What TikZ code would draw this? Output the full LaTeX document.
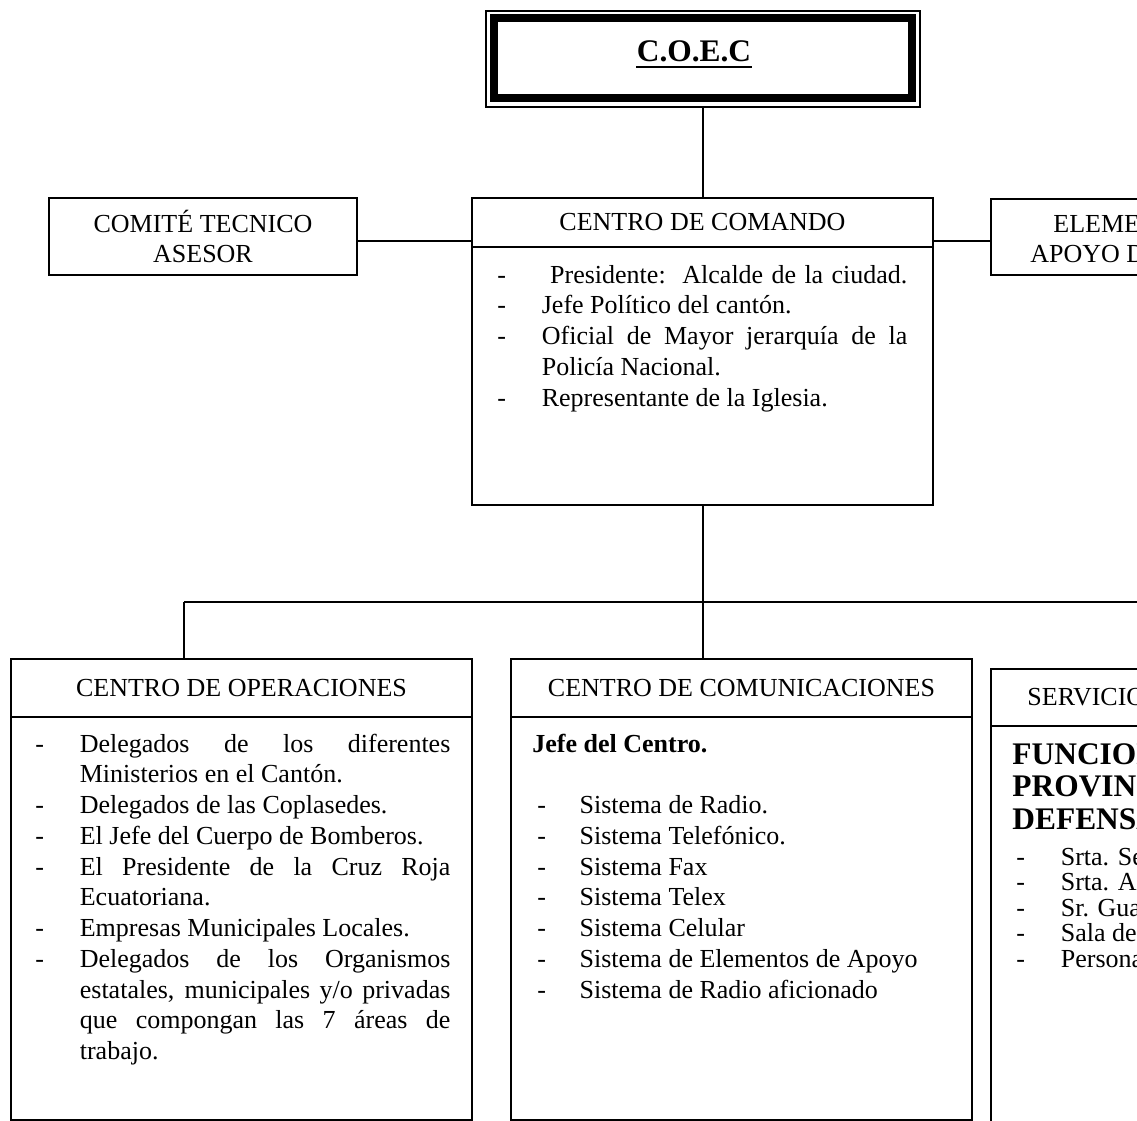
\documentclass[tikz,border=0pt]{standalone}
\usepackage{fontspec}
\setmainfont{Liberation Serif}
\usetikzlibrary{positioning,fit}

% one list line: dash in its own column, hanging indent for the rest
\newcommand{\lineitem}[2][20.5pt]{\hangindent=#1\hangafter=1\noindent\makebox[#1][l]{-}#2\par}

\begin{document}
\begin{tikzpicture}[
    x=0.4615pt, y=-0.4615pt,
    box/.style={draw, line width=0.9pt, inner sep=0pt},
    head/.style={anchor=base, inner sep=0pt, align=center, font=\fontsize{12}{14.3}\selectfont},
    list/.style={anchor=base west, inner sep=0pt, align=justify, font=\fontsize{12}{14.2}\selectfont,
        execute at begin node={\hyphenpenalty=10000\exhyphenpenalty=10000\tolerance=10000}},
    plain/.style={anchor=base west, inner sep=0pt, align=flush left, font=\fontsize{12}{14.2}\selectfont},
    big/.style={anchor=base west, inner sep=0pt, align=left, font=\fontsize{14.5}{14.8}\selectfont\bfseries},
    link/.style={line width=0.9pt},
]
\useasboundingbox (0,0) rectangle (1137,1121);
\clip (0,0) rectangle (1137,1121);

% Top box
\node[box, fit={(486,11) (920,107)}] (coec) {};
\node[box, line width=3.7pt, fit={(494,18) (912,98)}] (coecin) {};
\node[anchor=base, inner sep=0pt, font=\fontsize{14.5}{17}\selectfont\bfseries] (coectxt) at (694,62) {C.O.E.C};
\draw[line width=1pt] ([yshift=-2.3pt]coectxt.base west) -- ([yshift=-2.3pt]coectxt.base east);

% Second row
\coordinate (hl) at (0,241);
\coordinate (cmdsep) at (0,247);
\node[box, fit={(49,198) (357,275)}] (comite) {};
\node[head] (comitetxt) at (203,263) {COMITÉ TECNICO\\ASESOR};

\node[box, fit={(472,198) (933,505)}] (comando) {};
\draw[link] (comando.west |- cmdsep) -- (comando.east |- cmdsep);
\node[head] (comandotxt) at (702.5,231) {CENTRO DE COMANDO};
\node[list, text width=189.2pt] (comandolist) at (497,283) {%
  \lineitem{\ Presidente:\ \ Alcalde de la ciudad.{\parfillskip=0pt\par}}
  \lineitem{Jefe Político del cantón.}
  \lineitem{Oficial de Mayor jerarquía de la\linebreak Policía Nacional.}
  \lineitem{Representante de la Iglesia.}};

\node[box, fit={(991,199) (1300,275)}] (eleme) {};
\node[plain] (elemetxt) at (1053,232) {ELEMENTOS DE};
\node[plain] (apoyotxt) at (1030,263) {APOYO DE LA};

\draw[link] (coec.south) -- (coec.south |- comando.north);
\draw[link] (comite.east |- hl) -- (comando.west |- hl);
\draw[link] (comando.east |- hl) -- (eleme.west |- hl);

% Bus to the third row
\coordinate (bus) at (703,602);
\coordinate (busL) at (184,602);
\coordinate (busR) at (1137,602);
\coordinate (opsep) at (0,717);
\coordinate (servsep) at (0,726);

\node[box, fit={(11,659) (472,1120)}] (ops) {};
\node[box, fit={(511,659) (972,1120)}] (comm) {};
\node[box, fit={(991,669) (1300,1200)}] (serv) {};

\draw[link] (comando.south -| bus) -- (bus);
\draw[link] (busL) -- (busR);
\draw[link] (busL) -- (busL |- ops.north);
\draw[link] (bus) -- (bus |- comm.north);

% Centro de operaciones
\draw[link] (ops.west |- opsep) -- (ops.east |- opsep);
\node[head] (opstxt) at (241.5,696) {CENTRO DE OPERACIONES};
\node[list, text width=191.5pt] (opslist) at (35,752) {%
  \lineitem{Delegados de los diferentes\linebreak Ministerios en el Cantón.}
  \lineitem{Delegados de las Coplasedes.}
  \lineitem{El Jefe del Cuerpo de Bomberos.}
  \lineitem{El Presidente de la Cruz Roja\linebreak Ecuatoriana.}
  \lineitem{Empresas Municipales Locales.}
  \lineitem{Delegados de los Organismos\linebreak estatales, municipales y/o privadas\linebreak que compongan las 7 áreas de\linebreak trabajo.}};

% Centro de comunicaciones
\draw[link] (comm.west |- opsep) -- (comm.east |- opsep);
\node[head] (commtxt) at (741.5,696) {CENTRO DE COMUNICACIONES};
\node[plain, font=\fontsize{12}{14.2}\selectfont\bfseries] (jefe) at (532,752) {Jefe del Centro.};
\node[plain, text width=200pt] (commlist) at (537,813.6) {%
  \lineitem[19.5pt]{Sistema de Radio.}
  \lineitem[19.5pt]{Sistema Telefónico.}
  \lineitem[19.5pt]{Sistema Fax}
  \lineitem[19.5pt]{Sistema Telex}
  \lineitem[19.5pt]{Sistema Celular}
  \lineitem[19.5pt]{Sistema de Elementos de Apoyo}
  \lineitem[19.5pt]{Sistema de Radio aficionado}};

% Servicios
\draw[link] (serv.west |- servsep) -- (serv.east |- servsep);
\node[plain] (servtxt) at (1027,705) {SERVICIOS};
\node[big] (funcion) at (1012,829) {FUNCIONARIOS\\PROVINCIALES\\DEFENSA CIVIL};
\node[plain, text width=200pt, font=\fontsize{12}{11.8}\selectfont] (servlist) at (1016,865) {%
  \lineitem[20.5pt]{Srta. Secretaria}
  \lineitem[20.5pt]{Srta. Asistente}
  \lineitem[20.5pt]{Sr. Guardián}
  \lineitem[20.5pt]{Sala de Espera}
  \lineitem[20.5pt]{Personal}};

\end{tikzpicture}
\end{document}
